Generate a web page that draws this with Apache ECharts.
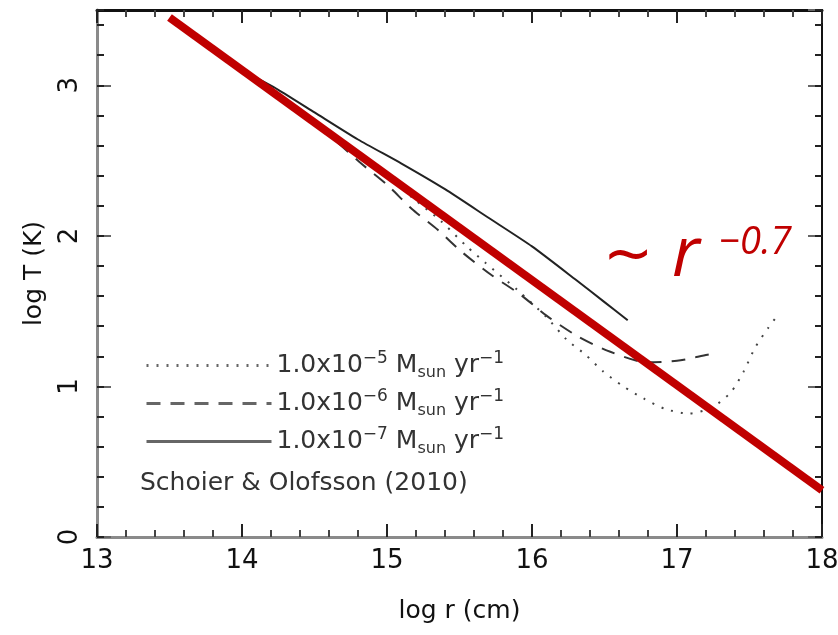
<!DOCTYPE html>
<html>
<head>
<meta charset="utf-8">
<title>log T vs log r</title>
<script src="https://cdn.jsdelivr.net/npm/echarts@6/dist/echarts.min.js"></script>
<style>
  html, body { margin: 0; padding: 0; background: #fff; }
  #chart { width: 838px; height: 635px; }
</style>
</head>
<body>
<div id="chart"></div>
<script>
// values (log r in cm, log T in K)
var logR_5 = [14.0, 14.3, 14.6, 14.85, 15.18, 15.37, 15.55, 15.68, 15.9, 16.1, 16.24, 16.37, 16.49, 16.63, 16.77, 16.92, 17.08, 17.24, 17.37, 17.46, 17.54, 17.63, 17.7];
var logT_5 = [3.10, 2.90, 2.69, 2.51, 2.25, 2.10, 1.93, 1.82, 1.64, 1.46, 1.31, 1.21, 1.10, 1.00, 0.92, 0.85, 0.82, 0.86, 0.96, 1.10, 1.26, 1.39, 1.48];

var logR_6 = [14.0, 14.3, 14.6, 14.81, 15.0, 15.17, 15.35, 15.52, 15.72, 15.92, 16.1, 16.32, 16.54, 16.79, 17.0, 17.21, 17.27];
var logT_6 = [3.10, 2.89, 2.67, 2.49, 2.34, 2.18, 2.04, 1.89, 1.74, 1.61, 1.47, 1.33, 1.23, 1.16, 1.17, 1.21, 1.22];

var logR_7 = [14.0, 14.25, 14.5, 14.8, 15.1, 15.4, 15.7, 16.0, 16.3, 16.5, 16.66];
var logT_7 = [3.10, 2.97, 2.82, 2.64, 2.48, 2.31, 2.12, 1.93, 1.71, 1.56, 1.44];

// power law fit ~ r^-0.7
var fitR = [13.5, 18];
var fitT = [3.45, 0.31];

var seriesNames = ["1e-5", "1e-6", "1e-7"];
var exponents = ["\u22125", "\u22126", "\u22127"];

var xTicks = { min: 13, max: 18, step: 1 };
var yTicks = { min: 0, max: 3.5, step: 1, minorStep: 0.2 };

var FONT = '"DejaVu Sans", "Liberation Sans", sans-serif';

function zip(a, b) {
  var out = [];
  for (var i = 0; i < a.length; i++) out.push([a[i], b[i]]);
  return out;
}

var chart = echarts.init(document.getElementById("chart"), null, { renderer: "canvas" });

// y axes: major/minor ticks on left and right (box frame)
function yAxisDef(pos, minor) {
  var isLeft = pos === "left";
  var ax = {
    type: "value",
    position: pos,
    min: yTicks.min,
    max: yTicks.max,
    interval: minor ? yTicks.minorStep : yTicks.step,
    splitLine: { show: false },
    axisLine: {
      show: !minor,
      onZero: false,
      lineStyle: { color: isLeft ? "#8a8a8a" : "#111", width: isLeft ? 3 : 2 }
    },
    axisTick: {
      show: true,
      inside: true,
      length: minor ? 7 : 14,
      lineStyle: { color: minor ? "#222" : "#666", width: 2 }
    },
    axisLabel: { show: false }
  };
  if (isLeft && !minor) {
    ax.axisLabel = {
      show: true,
      rotate: 90,
      margin: 14,
      fontSize: 26,
      fontFamily: FONT,
      color: "#111",
      showMaxLabel: false
    };
    ax.name = "log T (K)";
    ax.nameLocation = "middle";
    ax.nameRotate = 90;
    ax.nameGap = 50;
    ax.nameTextStyle = { fontSize: 25, fontFamily: FONT, color: "#111" };
  }
  return ax;
}

function xAxisDef(pos) {
  var isBottom = pos === "bottom";
  var ax = {
    type: "value",
    position: pos,
    min: xTicks.min,
    max: xTicks.max,
    interval: xTicks.step,
    splitLine: { show: false },
    axisLine: {
      show: true,
      onZero: false,
      lineStyle: { color: isBottom ? "#8a8a8a" : "#111", width: 3 }
    },
    axisTick: { show: true, inside: true, length: 13, lineStyle: { color: "#222", width: 2 } },
    minorTick: { show: true, splitNumber: 5, length: 7, lineStyle: { color: "#444", width: 2 } },
    axisLabel: { show: false }
  };
  if (isBottom) {
    ax.axisLabel = { show: true, margin: 11, fontSize: 26, fontFamily: FONT, color: "#111" };
    ax.name = "log r (cm)";
    ax.nameLocation = "middle";
    ax.nameGap = 62;
    ax.nameTextStyle = { fontSize: 25, fontFamily: FONT, color: "#111", verticalAlign: "top" };
  }
  return ax;
}

var option = {
  backgroundColor: "#fff",
  animation: false,
  grid: { left: 97, right: 16, top: 10, bottom: 98, containLabel: false, outerBoundsMode: "none" },
  xAxis: [xAxisDef("bottom"), xAxisDef("top")],
  yAxis: [yAxisDef("left", false), yAxisDef("left", true), yAxisDef("right", false), yAxisDef("right", true)],
  legend: {
    data: seriesNames,
    orient: "vertical",
    left: 140,
    top: 345,
    itemWidth: 125,
    itemHeight: 14,
    itemGap: 7,
    selectedMode: false,
    itemStyle: { color: "transparent", borderColor: "transparent", borderWidth: 0 },
    lineStyle: { width: 3, color: "#666" },
    formatter: function (name) {
      var e = exponents[seriesNames.indexOf(name)];
      return "{b|1.0x10}{sup|" + e + "}{b| M}{sub|sun}{b| yr}{sup|\u22121}";
    },
    textStyle: {
      fontFamily: FONT,
      fontSize: 25,
      color: "#333",
      lineHeight: 31,
      rich: {
        b: { fontFamily: FONT, fontSize: 25, color: "#333", lineHeight: 31, verticalAlign: "middle" },
        sup: { fontFamily: FONT, fontSize: 17, color: "#333", lineHeight: 31, verticalAlign: "top" },
        sub: { fontFamily: FONT, fontSize: 16, color: "#333", lineHeight: 31, verticalAlign: "bottom" }
      }
    }
  },
  graphic: [
    {
      type: "text",
      x: 140,
      y: 483,
      style: { text: "Schoier & Olofsson (2010)", font: '25px ' + FONT, fill: "#333", verticalAlign: "middle" }
    },
    {
      type: "text",
      x: 603,
      y: 258,
      z: 100,
      style: { text: "~", font: '60px ' + FONT, fill: "#c00000", verticalAlign: "middle" }
    },
    {
      type: "text",
      x: 672,
      y: 256,
      z: 100,
      style: { text: "r", font: 'italic 70px "Open Sans", sans-serif', fill: "#c00000", verticalAlign: "middle" }
    },
    {
      type: "text",
      x: 719,
      y: 243,
      z: 100,
      style: { text: "\u22120.7", font: 'italic 38px "Open Sans", sans-serif', fill: "#c00000", verticalAlign: "middle" }
    }
  ],
  series: [
    {
      name: seriesNames[0],
      type: "line",
      data: zip(logR_5, logT_5),
      symbol: "none",
      smooth: 0.25,
      lineStyle: { color: "#444", width: 2, type: [2, 8] }
    },
    {
      name: seriesNames[1],
      type: "line",
      data: zip(logR_6, logT_6),
      symbol: "none",
      smooth: 0.25,
      lineStyle: { color: "#333", width: 2, type: [14, 10] }
    },
    {
      name: seriesNames[2],
      type: "line",
      data: zip(logR_7, logT_7),
      symbol: "none",
      smooth: 0.2,
      lineStyle: { color: "#222", width: 2, type: "solid" }
    },
    {
      name: "fit",
      type: "line",
      data: zip(fitR, fitT),
      symbol: "none",
      z: 10,
      lineStyle: { color: "#c00000", width: 8, cap: "butt" }
    }
  ]
};

chart.setOption(option);
</script>
</body>
</html>
